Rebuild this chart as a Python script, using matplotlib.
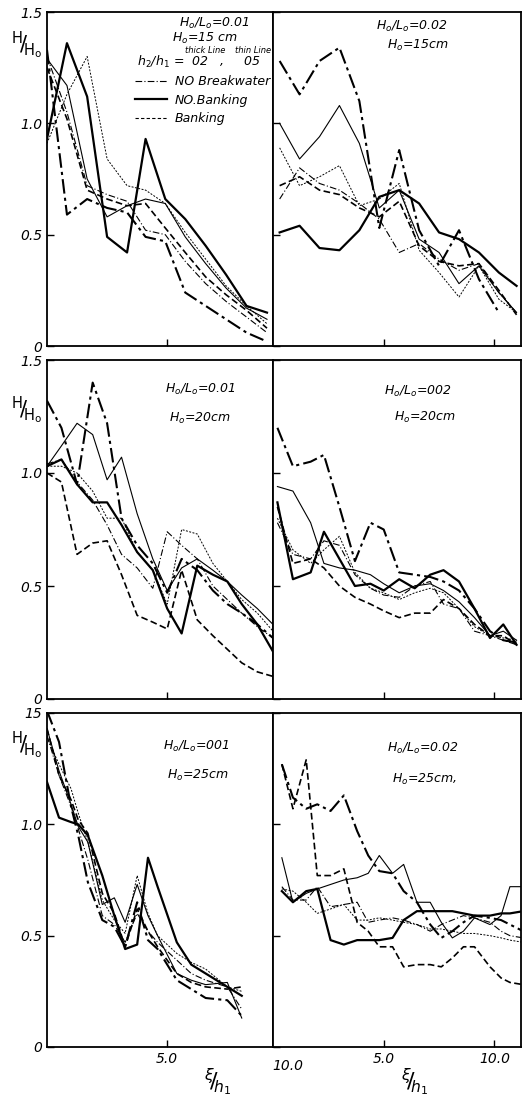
import numpy as np
import matplotlib
matplotlib.use("Agg")
from matplotlib import pyplot as plt
from matplotlib.lines import Line2D

# --- data (H/Ho vs xi/h1) ---
# top row, Ho = 15 cm
tl_x = [0, 0.83, 1.67, 2.5, 3.33, 4.1, 4.92, 5.75, 6.6, 7.45, 8.3, 9.15]
tl_nobw_02 = [1.33, 0.59, 0.66, 0.62, 0.60, 0.49, 0.47, 0.24, 0.18, 0.12, 0.06, 0.02]
tl_nobw_05 = [1.30, 1.05, 0.72, 0.68, 0.65, 0.52, 0.50, 0.38, 0.28, 0.20, 0.13, 0.06]
tl_nb_02 = [0.93, 1.36, 1.12, 0.49, 0.42, 0.93, 0.66, 0.57, 0.45, 0.32, 0.18, 0.15]
tl_nb_05 = [1.29, 1.17, 0.75, 0.58, 0.63, 0.66, 0.64, 0.49, 0.37, 0.26, 0.17, 0.12]
tl_bk_02 = [1.25, 1.02, 0.70, 0.66, 0.63, 0.64, 0.53, 0.42, 0.31, 0.23, 0.16, 0.08]
tl_bk_05 = [0.91, 1.13, 1.30, 0.84, 0.72, 0.70, 0.64, 0.51, 0.39, 0.27, 0.18, 0.10]

tr_x = [0.3, 1.2, 2.1, 3.0, 3.9, 4.8, 5.7, 6.6, 7.5, 8.4, 9.3, 10.2, 11.0]
tr_nobw_02 = [1.28, 1.13, 1.28, 1.34, 1.10, 0.53, 0.88, 0.52, 0.36, 0.52, 0.30, 0.15, np.nan]
tr_nobw_05 = [0.66, 0.80, 0.73, 0.70, 0.64, 0.57, 0.42, 0.46, 0.39, 0.34, 0.37, 0.24, 0.15]
tr_nb_02 = [0.51, 0.54, 0.44, 0.43, 0.52, 0.67, 0.70, 0.64, 0.51, 0.48, 0.42, 0.33, 0.27]
tr_nb_05 = [1.00, 0.84, 0.94, 1.08, 0.91, 0.62, 0.70, 0.48, 0.42, 0.28, 0.36, 0.24, 0.15]
tr_bk_02 = [0.72, 0.76, 0.70, 0.68, 0.62, 0.58, 0.65, 0.45, 0.38, 0.36, 0.37, 0.25, 0.14]
tr_bk_05 = [0.89, 0.72, 0.76, 0.81, 0.63, 0.66, 0.73, 0.43, 0.33, 0.22, 0.36, 0.21, 0.15]

# middle row, Ho = 20 cm
ml_x = [0, 0.6, 1.25, 1.9, 2.5, 3.1, 3.75, 4.4, 5.0, 5.6, 6.25, 6.9, 7.5, 8.1, 8.75, 9.4]
ml_nobw_02 = [1.32, 1.20, 0.95, 1.40, 1.22, 0.80, 0.68, 0.60, 0.47, 0.62, 0.57, 0.48, 0.42, 0.38, 0.33, 0.27]
ml_nobw_05 = [1.04, 1.06, 0.96, 0.88, 0.77, 0.64, 0.58, 0.49, 0.74, 0.68, 0.62, 0.50, 0.44, 0.38, 0.32, 0.27]
ml_nb_02 = [1.03, 1.06, 0.95, 0.87, 0.87, 0.77, 0.65, 0.57, 0.40, 0.29, 0.59, 0.55, 0.52, 0.42, 0.33, 0.21]
ml_nb_05 = [1.03, 1.12, 1.22, 1.17, 0.97, 1.07, 0.82, 0.62, 0.48, 0.58, 0.62, 0.57, 0.52, 0.46, 0.40, 0.33]
ml_bk_02 = [1.00, 0.96, 0.64, 0.69, 0.70, 0.55, 0.37, 0.34, 0.31, 0.57, 0.35, 0.28, 0.22, 0.16, 0.12, 0.10]
ml_bk_05 = [1.03, 1.03, 1.00, 0.92, 0.80, 0.80, 0.65, 0.57, 0.42, 0.75, 0.73, 0.60, 0.52, 0.44, 0.38, 0.30]

mr_x = [0.2, 0.9, 1.7, 2.3, 3.0, 3.7, 4.4, 5.0, 5.7, 6.4, 7.1, 7.7, 8.4, 9.1, 9.8, 10.4, 11.0]
mr_nobw_02 = [1.20, 1.03, 1.05, 1.08, 0.85, 0.61, 0.78, 0.75, 0.56, 0.55, 0.54, 0.52, 0.48, 0.40, 0.30, 0.26, 0.25]
mr_nobw_05 = [0.78, 0.64, 0.62, 0.70, 0.68, 0.55, 0.49, 0.46, 0.45, 0.50, 0.52, 0.42, 0.40, 0.30, 0.28, 0.26, 0.24]
mr_nb_02 = [0.87, 0.53, 0.56, 0.74, 0.62, 0.50, 0.51, 0.48, 0.53, 0.49, 0.55, 0.57, 0.52, 0.40, 0.27, 0.33, 0.24]
mr_nb_05 = [0.94, 0.92, 0.78, 0.60, 0.58, 0.57, 0.55, 0.51, 0.47, 0.50, 0.51, 0.48, 0.43, 0.36, 0.28, 0.30, 0.26]
mr_bk_02 = [0.85, 0.60, 0.62, 0.58, 0.50, 0.45, 0.42, 0.39, 0.36, 0.38, 0.38, 0.44, 0.40, 0.33, 0.28, 0.28, 0.24]
mr_bk_05 = [0.80, 0.66, 0.60, 0.66, 0.72, 0.56, 0.49, 0.47, 0.44, 0.47, 0.49, 0.47, 0.40, 0.32, 0.28, 0.27, 0.26]

# bottom row, Ho = 25 cm
bl_x = [0, 0.5, 1.0, 1.3, 1.7, 2.3, 2.8, 3.25, 3.75, 4.2, 4.6, 5.4, 6.0, 6.6, 7.5, 8.1]
bl_nobw_02 = [1.51, 1.37, 1.08, 0.95, 0.74, 0.57, 0.54, 0.45, 0.65, 0.48, 0.44, 0.30, 0.26, 0.22, 0.21, 0.14]
bl_nobw_05 = [1.40, 1.22, 1.08, 0.98, 0.84, 0.59, 0.55, 0.47, 0.60, 0.52, 0.47, 0.39, 0.33, 0.30, 0.27, 0.17]
bl_nb_02 = [1.19, 1.03, 1.01, 1.00, 0.95, 0.77, 0.59, 0.44, 0.46, 0.85, 0.72, 0.47, 0.37, 0.33, 0.27, 0.23]
bl_nb_05 = [1.43, 1.24, 1.09, 0.99, 0.92, 0.64, 0.67, 0.56, 0.73, 0.59, 0.50, 0.33, 0.30, 0.28, 0.29, 0.13]
bl_bk_02 = [1.43, 1.22, 1.11, 1.02, 0.96, 0.69, 0.60, 0.45, 0.62, 0.52, 0.45, 0.33, 0.29, 0.27, 0.26, 0.27]
bl_bk_05 = [1.39, 1.27, 1.16, 1.05, 0.92, 0.66, 0.57, 0.51, 0.77, 0.60, 0.50, 0.42, 0.38, 0.35, 0.27, 0.25]

br_x = [0.4, 0.9, 1.5, 2.0, 2.6, 3.2, 3.8, 4.3, 4.8, 5.4, 5.9, 6.5, 7.1, 7.6, 8.1, 8.6, 9.1, 9.8, 10.3, 10.7, 11.3]
br_nobw_02 = [1.27, 1.12, 1.07, 1.09, 1.06, 1.13, 0.97, 0.86, 0.79, 0.78, 0.70, 0.65, 0.55, 0.49, 0.52, 0.56, 0.59, 0.58, 0.57, 0.55, 0.52]
br_nobw_05 = [0.72, 0.66, 0.66, 0.72, 0.63, 0.64, 0.65, 0.56, 0.57, 0.58, 0.57, 0.55, 0.52, 0.55, 0.57, 0.59, 0.58, 0.56, 0.52, 0.50, 0.49]
br_nb_02 = [0.70, 0.65, 0.70, 0.71, 0.48, 0.46, 0.48, 0.48, 0.48, 0.49, 0.57, 0.61, 0.61, 0.61, 0.61, 0.60, 0.59, 0.59, 0.60, 0.60, 0.61]
br_nb_05 = [0.85, 0.65, 0.69, 0.71, 0.73, 0.75, 0.76, 0.78, 0.86, 0.78, 0.82, 0.65, 0.65, 0.56, 0.49, 0.52, 0.58, 0.55, 0.59, 0.72, 0.72]
br_bk_02 = [1.27, 1.07, 1.29, 0.77, 0.77, 0.80, 0.56, 0.52, 0.45, 0.45, 0.36, 0.37, 0.37, 0.36, 0.40, 0.45, 0.45, 0.36, 0.31, 0.29, 0.28]
br_bk_05 = [0.71, 0.70, 0.65, 0.60, 0.62, 0.64, 0.57, 0.57, 0.58, 0.57, 0.56, 0.55, 0.53, 0.53, 0.52, 0.51, 0.51, 0.50, 0.49, 0.48, 0.47]

ylabels_top = ["0", "0.5", "1.0", "1.5"]
ylabels_mid = ["0", "0.5", "1.0", "1.5"]
ylabels_bot = ["0", "0.5", "1.0", "15"]

# line styles: (linestyle, linewidth)
styles = {
    "nobw_02": ((0, (7, 2, 1.5, 2)), 1.5),
    "nobw_05": ((0, (6, 2, 1, 2)), 0.8),
    "nb_02": ("-", 1.6),
    "nb_05": ("-", 0.8),
    "bk_02": ((0, (4, 2)), 1.2),
    "bk_05": ((0, (2, 1.5)), 0.7),
}

plt.rcParams['font.family'] = ['DejaVu Sans']
fig = plt.figure(figsize=(5.23, 10.98), dpi=100)

W, H = 523, 1098
def box(x0, y0, x1, y1):
    return [x0 / W, 1 - y1 / H, (x1 - x0) / W, (y1 - y0) / H]

rows = [
    (12, 346, ylabels_top,
     (tl_x, tl_nobw_02, tl_nobw_05, tl_nb_02, tl_nb_05, tl_bk_02, tl_bk_05),
     (tr_x, tr_nobw_02, tr_nobw_05, tr_nb_02, tr_nb_05, tr_bk_02, tr_bk_05)),
    (360, 699, ylabels_mid,
     (ml_x, ml_nobw_02, ml_nobw_05, ml_nb_02, ml_nb_05, ml_bk_02, ml_bk_05),
     (mr_x, mr_nobw_02, mr_nobw_05, mr_nb_02, mr_nb_05, mr_bk_02, mr_bk_05)),
    (713, 1047, ylabels_bot,
     (bl_x, bl_nobw_02, bl_nobw_05, bl_nb_02, bl_nb_05, bl_bk_02, bl_bk_05),
     (br_x, br_nobw_02, br_nobw_05, br_nb_02, br_nb_05, br_bk_02, br_bk_05)),
]
keys = ["nobw_02", "nobw_05", "nb_02", "nb_05", "bk_02", "bk_05"]

axes = []
for r, (y0, y1, ylab, left, right) in enumerate(rows):
    axl = fig.add_axes(box(47, y0, 273, y1))
    axr = fig.add_axes(box(273, y0, 521, y1))
    for ax, data, xmax in [(axl, left, 9.4), (axr, right, 11.2)]:
        x = data[0]
        for k, y in zip(keys, data[1:]):
            ls, lw = styles[k]
            ax.plot(x, y, color="black", linestyle=ls, linewidth=lw)
        ax.set_xlim(0, xmax)
        ax.set_ylim(0, 1.5)
        for s in ax.spines.values():
            s.set_linewidth(1.3)
        ax.tick_params(direction="in", length=5, width=1.0, top=False, right=False,
                       labelsize=10)
        ax.set_yticks([0, 0.5, 1.0, 1.5])
    axl.set_xticks([5])
    axr.set_xticks([5, 10])
    axl.set_yticklabels(ylab, fontstyle="italic")
    axr.set_yticklabels([])
    if r == 2:
        axl.set_xticklabels(["5.0"], fontstyle="italic")
        axr.set_xticklabels(["5.0", "10.0"], fontstyle="italic")
        axl.text(10, -0.035, "10.0", transform=axl.get_xaxis_transform(),
                 ha="center", va="top", fontsize=10, fontstyle="italic", clip_on=False)
    else:
        axl.set_xticklabels([])
        axr.set_xticklabels([])
    axes.append((axl, axr))

# annotations
ax_tl, ax_tr = axes[0]
ax_ml, ax_mr = axes[1]
ax_bl, ax_br = axes[2]
kw = dict(ha="center", va="center", fontstyle="italic", fontsize=9)
ax_tl.text(0.74, 0.967, "H$_o$/L$_o$=0.01", transform=ax_tl.transAxes, **kw)
ax_tl.text(0.70, 0.92, "H$_o$=15 cm", transform=ax_tl.transAxes, **kw)
ax_tl.text(0.70, 0.885, "thick Line", transform=ax_tl.transAxes, ha="center", va="center",
           fontstyle="italic", fontsize=6)
ax_tl.text(0.91, 0.885, "thin Line", transform=ax_tl.transAxes, ha="center", va="center",
           fontstyle="italic", fontsize=6)
ax_tl.text(0.40, 0.85, "h$_2$/h$_1$ =  02   ,     05", transform=ax_tl.transAxes, ha="left",
           va="center", fontstyle="italic", fontsize=9)
handles = [
    Line2D([], [], color="black", linestyle=(0, (6, 2, 1, 2)), linewidth=0.8),
    Line2D([], [], color="black", linestyle="-", linewidth=1.6),
    Line2D([], [], color="black", linestyle=(0, (3, 2)), linewidth=0.8),
]
leg = ax_tl.legend(handles, ["NO Breakwater", "NO.Banking", "Banking"], loc="upper left",
                   bbox_to_anchor=(0.36, 0.83), frameon=False, fontsize=9,
                   handlelength=2.6, labelspacing=0.45, borderpad=0, handletextpad=0.6)
for t in leg.get_texts():
    t.set_fontstyle("italic")

ax_tr.text(0.56, 0.958, "H$_o$/L$_o$=0.02", transform=ax_tr.transAxes, **kw)
ax_tr.text(0.585, 0.90, "H$_o$=15cm", transform=ax_tr.transAxes, **kw)
ax_ml.text(0.677, 0.912, "H$_o$/L$_o$=0.01", transform=ax_ml.transAxes, **kw)
ax_ml.text(0.677, 0.829, "H$_o$=20cm", transform=ax_ml.transAxes, **kw)
ax_mr.text(0.585, 0.906, "H$_o$/L$_o$=002", transform=ax_mr.transAxes, **kw)
ax_mr.text(0.613, 0.832, "H$_o$=20cm", transform=ax_mr.transAxes, **kw)
ax_bl.text(0.66, 0.90, "H$_o$/L$_o$=001", transform=ax_bl.transAxes, **kw)
ax_bl.text(0.668, 0.814, "H$_o$=25cm", transform=ax_bl.transAxes, **kw)
ax_br.text(0.605, 0.895, "H$_o$/L$_o$=0.02", transform=ax_br.transAxes, **kw)
ax_br.text(0.613, 0.80, "H$_o$=25cm,", transform=ax_br.transAxes, **kw)

ylab = r"$^{\mathrm{H}}\!/\!_{\mathrm{H_o}}$"
for py in [45, 410, 745]:
    fig.text(27 / W, 1 - py / H, ylab, ha="center", va="center", fontsize=15)
xlab = r"$^{\xi}\!/\!_{h_1}$"
for px in [218, 415]:
    fig.text(px / W, 1 - 1082 / H, xlab, ha="center", va="center", fontsize=16)

fig.savefig("out.png", dpi=100)
